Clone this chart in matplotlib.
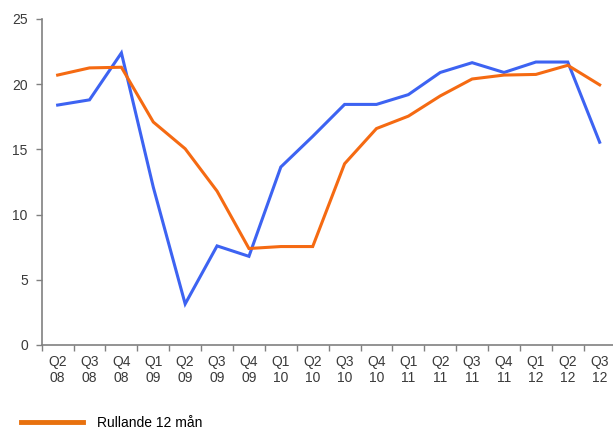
import matplotlib
matplotlib.use("Agg")
import matplotlib.pyplot as plt
import numpy as np
from matplotlib.lines import Line2D

categories = ["Q2\n08", "Q3\n08", "Q4\n08", "Q1\n09", "Q2\n09", "Q3\n09", "Q4\n09",
              "Q1\n10", "Q2\n10", "Q3\n10", "Q4\n10", "Q1\n11", "Q2\n11", "Q3\n11",
              "Q4\n11", "Q1\n12", "Q2\n12", "Q3\n12"]
kvartal = [18.4, 18.8, 22.4, 12.1, 3.15, 7.6, 6.8, 13.65, 16.0, 18.45, 18.45, 19.2,
           20.9, 21.65, 20.9, 21.7, 21.7, 15.55]
rullande = [20.7, 21.25, 21.3, 17.1, 15.05, 11.8, 7.4, 7.55, 7.55, 13.9, 16.6, 17.55,
            19.1, 20.4, 20.7, 20.75, 21.45, 19.95]
yticks = [0, 5, 10, 15, 20, 25]

plt.rcParams['font.family'] = ['Liberation Sans', 'DejaVu Sans']

fig = plt.figure(figsize=(6.13, 4.32), dpi=100)
ax = fig.add_axes([41.7 / 613, 87 / 432, (615.6 - 41.7) / 613, (345 - 19) / 432])

x = np.arange(len(categories))
ax.plot(x, kvartal, color='#3D63F2', lw=2.2, solid_joinstyle='miter')
ax.plot(x, rullande, color='#F56A12', lw=2.2, solid_joinstyle='miter')

ax.set_xlim(-0.5, len(categories) - 0.5)
ax.set_ylim(0, 25)
ax.set_yticks(yticks)
ax.set_yticklabels([str(v) for v in yticks], fontsize=10, color='#3a3a3a')

ax.set_xticks(x)
ax.set_xticklabels(categories, fontsize=10, color='#3a3a3a', linespacing=1.2)
ax.set_xticks(np.arange(-0.5, len(categories) - 0.4, 1), minor=True)
ax.tick_params(axis='x', which='major', length=0, pad=7)
ax.tick_params(axis='x', which='minor', length=4, color='#808080', width=1)
ax.tick_params(axis='y', length=4, color='#808080', width=1, pad=6)

for s in ['top', 'right']:
    ax.spines[s].set_visible(False)
for s in ['left', 'bottom']:
    ax.spines[s].set_color('#808080')
    ax.spines[s].set_linewidth(1.2)

h = Line2D([], [], color='#E8710E', lw=3.5)
fig.legend([h], ['Rullande 12 mån'], loc='center left',
           bbox_to_anchor=(15.5 / 613, 1 - 423 / 432), frameon=False,
           fontsize=10, handlelength=4.45, handletextpad=1.0, borderaxespad=0)

fig.savefig('out.png', dpi=100)
